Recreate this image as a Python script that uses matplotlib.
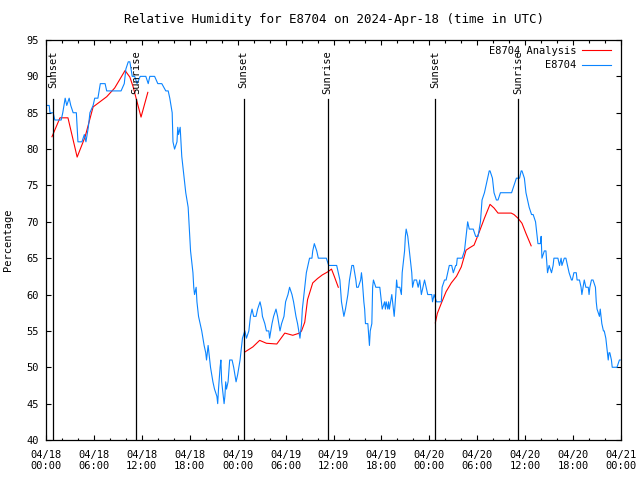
import numpy as np
import matplotlib
matplotlib.use('Agg')
import matplotlib.pyplot as plt
from matplotlib.ticker import MultipleLocator
plt.rcParams.update({'font.size': 7.5, 'font.family': 'DejaVu Sans Mono'})

nan = np.nan

# Station obs: hours since 2024-04-18 00:00 UTC and relative humidity (%)
obs_hours = [0, 0.4, 0.5, 0.9, 1.1, 1.9, 2.1, 2.4, 2.6, 2.9, 3.1, 3.4, 3.8, 4.0, 4.5, 4.8, 5.0, 5.3,
             5.5, 5.9, 6.1, 6.5, 6.8, 7.4, 7.6, 8.5, 9.0, 9.4, 9.8, 10.0, 10.3, 10.5, 10.8, 11.1,
             11.4, 11.8, 12.5, 12.8, 13.0, 13.6, 14.0, 14.5, 15.0, 15.3, 15.5, 15.8, 15.9, 16.1,
             16.4, 16.5, 16.6, 16.8, 16.9, 17.0, 17.3, 17.5, 17.8, 18.0, 18.1, 18.4, 18.5, 18.6,
             18.8, 18.9, 19.0, 19.1, 19.3, 19.5, 19.8, 20.0, 20.1, 20.3, 20.4, 20.6, 20.9, 21.1,
             21.4, 21.5, 21.6, 21.8, 21.9, 22.0, 22.3, 22.4, 22.5, 22.6, 22.8, 23.0, 23.3, 23.5,
             23.8, 24.0, 24.3, 24.5, 24.6, 24.9, 25.1, 25.4, 25.6, 25.8, 26.0, 26.3, 26.5, 26.8,
             27.0, 27.1, 27.4, 27.6, 27.9, 28.0, 28.3, 28.5, 28.8, 29.0, 29.3, 29.5, 29.8, 30.0,
             30.3, 30.5, 30.8, 31.0, 31.3, 31.5, 31.8, 32.0, 32.1, 32.4, 32.6, 32.8, 33.0, 33.3,
             33.4, 33.6, 33.9, 34.1, 34.5, 34.9, 35.1, 35.4, 35.8, 36.1, 36.4, 36.6, 36.8, 37.0,
             37.3, 37.5, 37.8, 38.0, 38.3, 38.5, 38.8, 38.9, 39.1, 39.4, 39.5, 39.6, 39.8, 39.9,
             40.0, 40.3, 40.5, 40.6, 40.8, 40.9, 41.0, 41.3, 41.5, 41.8, 42.0, 42.1, 42.4, 42.5,
             42.6, 42.8, 42.9, 43.0, 43.3, 43.4, 43.6, 43.8, 43.9, 44.0, 44.3, 44.5, 44.6, 44.9,
             45.0, 45.1, 45.3, 45.5, 45.8, 45.9, 46.1, 46.4, 46.6, 46.8, 47.0, 47.4, 47.6, 47.8,
             48.0, 48.3, 48.4, 48.6, 48.9, 49.3, 49.5, 49.6, 49.9, 50.1, 50.3, 50.5, 50.8, 51.0,
             51.3, 51.4, 51.5, 51.8, 52.1, 52.4, 52.6, 52.8, 53.0, 53.3, 53.5, 53.8, 54.1, 54.4,
             54.6, 54.9, 55.1, 55.3, 55.5, 55.6, 55.9, 56.1, 56.4, 56.6, 56.9, 58.0, 58.3, 58.6,
             58.9, 59.3, 59.5, 59.6, 59.9, 60.1, 60.3, 60.5, 60.8, 61.0, 61.3, 61.4, 61.6, 61.9,
             62.0, 62.1, 62.4, 62.6, 62.8, 63.0, 63.3, 63.5, 63.6, 63.9, 64.1, 64.3, 64.5, 64.6,
             64.9, 65.1, 65.3, 65.5, 65.8, 65.9, 66.1, 66.4, 66.5, 66.8, 67.0, 67.1, 67.4, 67.6,
             67.9, 68.0, 68.1, 68.3, 68.5, 68.8, 68.9, 69.0, 69.3, 69.4, 69.5, 69.6, 69.8, 69.9,
             70.1, 70.3, 70.4, 70.5, 70.6, 70.8, 70.9, 71.4, 71.5, 71.8, 71.9]
obs_rh = [86, 86, 85, 85, 84, 84, 85, 87, 86, 87, 86, 85, 85, 81, 81, 82, 81, 83,
          85, 86, 87, 87, 89, 89, 88, 88, 88, 88, 89, 91, 92, 92, 90, 90,
          89, 90, 90, 89, 90, 90, 89, 89, 88, 88, 87, 85, 81, 80,
          81, 83, 82, 83, 81, 79, 76, 74, 72, 68, 66, 63, 61, 60,
          61, 59, 58, 57, 56, 55, 53, 52, 51, 53, 52, 50, 48, 47,
          46, 45, 47, 50, 51, 48, 45, 46, 48, 47, 48, 51, 51, 50,
          48, 49, 51, 53, 54, 55, 54, 55, 57, 58, 57, 57, 58, 59,
          58, 57, 56, 55, 55, 54, 56, 57, 58, 57, 55, 56, 57, 59,
          60, 61, 60, 59, 57, 56, 54, 56, 58, 61, 63, 64, 65, 65,
          66, 67, 66, 65, 65, 65, 65, 64, 64, 64, 64, 63, 62, 59,
          57, 58, 60, 62, 64, 64, 62, 61, 61, 62, 63, 62, 59, 58,
          56, 56, 53, 55, 56, 61, 62, 61, 61, 61, 59, 58, 59, 58,
          59, 58, 59, 58, 60, 59, 57, 60, 62, 61, 61, 60, 63, 66,
          68, 69, 68, 66, 63, 61, 62, 62, 61, 62, 60, 62, 61, 60,
          60, 60, 59, 60, 59, 59, 59, 61, 62, 62, 63, 64, 64, 63,
          64, 64, 65, 65, 65, 66, 68, 70, 69, 69, 69, 68, 68, 70,
          73, 74, 75, 76, 77, 77, 76, 74, 73, 73, 74, 74, 74, 75,
          76, 76, 77, 77, 76, 74, 73, 72, 71, 71, 70, 69, 67, 67,
          68, 65, 66, 66, 63, 64, 63, 64, 65, 65, 65, 64, 65, 64,
          65, 65, 64, 63, 62, 62, 63, 63, 62, 62, 61, 60, 62, 61,
          61, 60, 61, 62, 62, 61, 59, 58, 57, 58, 57, 56, 55, 55,
          54, 52, 51, 52, 52, 51, 50, 50, 50, 51, 51]

# Analysis: three separate runs, NaN breaks the line between them
ana_hours = [0.75, 1.75, 2.75, 3.9, 4.9, 5.9, 6.75, 7.6, 8.6, 9.9, 10.5, 10.9, 11.4, 11.9, 12.75, nan,
             24.9, 25.9, 26.75, 27.6, 28.9, 29.9, 30.9, 31.75, 32.0, 32.4, 32.75, 33.4, 34.0, 34.6,
             35.25, 35.75, 36.1, 36.6, nan,
             48.75, 49.0, 49.5, 50.1, 50.75, 51.4, 52.0, 52.6, 53.0, 53.6, 54.25, 54.9, 55.6, 56.1,
             56.6, 57.6, 58.25, 58.6, 59.1, 59.6, 60.1, 60.75]
ana_rh = [81.7, 84.3, 84.3, 78.9, 81.7, 85.8, 86.5, 87.2, 88.4, 90.8, 89.9, 88.6, 86.5, 84.4, 87.8, nan,
          52.1, 52.8, 53.7, 53.3, 53.2, 54.7, 54.4, 54.7, 55.0, 56.2, 59.3, 61.6, 62.2, 62.7,
          63.1, 63.5, 62.5, 61.0, nan,
          56.1, 57.4, 58.8, 60.4, 61.6, 62.5, 63.8, 66.1, 66.4, 66.8, 68.6, 70.5, 72.4, 71.9,
          71.2, 71.2, 71.2, 71.0, 70.5, 69.8, 68.4, 66.7]

# Sun events (hours)
sun_hours = [0.9, 11.25, 24.75, 35.25, 48.75, 59.1]
sun_names = ['Sunset', 'Sunrise', 'Sunset', 'Sunrise', 'Sunset', 'Sunrise']

xtick_hours = np.arange(0, 73, 6)
xtick_labels = ['04/18\n00:00', '04/18\n06:00', '04/18\n12:00', '04/18\n18:00',
                '04/19\n00:00', '04/19\n06:00', '04/19\n12:00', '04/19\n18:00',
                '04/20\n00:00', '04/20\n06:00', '04/20\n12:00', '04/20\n18:00',
                '04/21\n00:00']

fig = plt.figure(figsize=(6.4, 4.8), dpi=100)
ax = fig.add_axes([46/640, 40/480, 575/640, 400/480])

ax.plot(ana_hours, ana_rh, color='#ff0000', lw=0.8, label='E8704 Analysis')
ax.plot(obs_hours, obs_rh, color='#0a84ff', lw=0.8, label='E8704')

for h, name in zip(sun_hours, sun_names):
    ax.plot([h, h], [40, 86.9], color='black', lw=0.9)
    ax.text(h, 93.6, name, rotation=90, ha='center', va='top')

ax.set_xlim(0, 72)
ax.set_ylim(40, 95)
ax.set_xticks(xtick_hours)
ax.set_xticklabels(xtick_labels)
ax.xaxis.set_minor_locator(MultipleLocator(2))
ax.set_yticks(np.arange(40, 96, 5))
ax.tick_params(which='both', direction='in', top=True, right=True, width=0.8)
ax.tick_params(which='major', length=3.5)
ax.tick_params(which='minor', length=1.8)
ax.tick_params(axis='x', pad=7)
ax.tick_params(axis='y', pad=5)
for s in ax.spines.values():
    s.set_linewidth(0.9)

ax.set_ylabel('Percentage')
ax.yaxis.set_label_coords(-0.058, 0.5)
ax.set_title('Relative Humidity for E8704 on 2024-Apr-18 (time in UTC)', pad=12)
ax.legend(loc='upper right', bbox_to_anchor=(1.0, 1.011), frameon=False, markerfirst=False,
          handlelength=2.7, handletextpad=0.6, labelspacing=0.4, borderaxespad=0.6)

fig.savefig('out.png', dpi=100)
